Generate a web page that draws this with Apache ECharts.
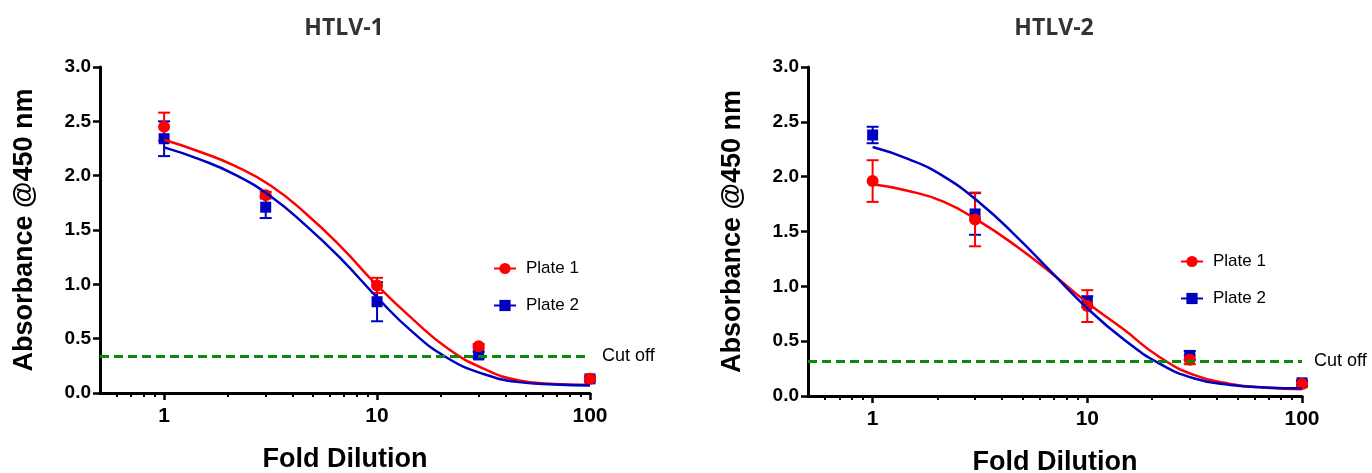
<!DOCTYPE html>
<html>
<head>
<meta charset="utf-8">
<style>
  html, body { margin: 0; padding: 0; background: #fff; }
  #box { width: 1372px; height: 473px; }
</style>
<script src="https://cdn.jsdelivr.net/npm/echarts@6/dist/echarts.min.js"></script>
</head>
<body>
<div id="box"></div>
<script>
// dilution points and values
var dilutions = [1, 3, 10, 30, 100];

var h1Plate1Mean = [2.45, 1.82, 0.99, 0.43, 0.13];
var h1Plate1Sd = [0.13, 0.03, 0.07, 0.02, 0.02];
var h1Plate2Mean = [2.34, 1.71, 0.84, 0.35, 0.13];
var h1Plate2Sd = [0.16, 0.10, 0.18, 0.03, 0.02];

var h2Plate1Mean = [1.96, 1.61, 0.82, 0.33, 0.11];
var h2Plate1Sd = [0.19, 0.245, 0.145, 0.04, 0.02];
var h2Plate2Mean = [2.38, 1.66, 0.86, 0.37, 0.12];
var h2Plate2Sd = [0.075, 0.19, 0.05, 0.04, 0.02];

// fitted curves, read at these dilutions
var fitX = [1, 1.47, 2.15, 3.16, 4.64, 6.81, 10, 14.7, 21.5, 31.6, 46.4, 68.1, 100];
var h1Fit1 = [2.33, 2.22, 2.09, 1.91, 1.65, 1.34, 0.99, 0.68, 0.41, 0.225, 0.115, 0.083, 0.075];
var h1Fit2 = [2.26, 2.15, 2.01, 1.81, 1.54, 1.23, 0.88, 0.56, 0.32, 0.175, 0.10, 0.078, 0.07];
var h2Fit1 = [1.93, 1.87, 1.77, 1.59, 1.37, 1.12, 0.85, 0.61, 0.36, 0.19, 0.11, 0.075, 0.062];
var h2Fit2 = [2.27, 2.16, 2.00, 1.76, 1.46, 1.13, 0.80, 0.52, 0.30, 0.16, 0.10, 0.078, 0.07];

var cutoffs = [0.34, 0.32];
var titles = ['HTLV-1', 'HTLV-2'];
var majorTicks = [1, 10, 100];
var minorTicks = [0.6, 0.7, 0.8, 0.9, 2, 3, 4, 5, 6, 7, 8, 9, 20, 30, 40, 50, 60, 70, 80, 90];

var RED = '#ff0000';
var BLUE = '#0000c0';
var GREEN = '#0a8a0a';
var FONT = 'Liberation Sans';

function pairs(xs, ys) {
    return xs.map(function (x, i) { return [x, ys[i]]; });
}
function errs(xs, ms, sds) {
    return xs.map(function (x, i) { return [x, ms[i] - sds[i], ms[i] + sds[i]]; });
}

function errorBars(name, data, color, idx) {
    return {
        name: name,
        type: 'custom',
        xAxisIndex: idx * 2,
        yAxisIndex: idx,
        silent: true,
        data: data,
        renderItem: function (params, api) {
            var lo = api.coord([api.value(0), api.value(1)]);
            var hi = api.coord([api.value(0), api.value(2)]);
            var w = 6;
            var st = { stroke: color, lineWidth: 2 };
            return {
                type: 'group',
                children: [
                    { type: 'line', shape: { x1: lo[0], y1: lo[1], x2: hi[0], y2: hi[1] }, style: st },
                    { type: 'line', shape: { x1: lo[0] - w, y1: lo[1], x2: lo[0] + w, y2: lo[1] }, style: st },
                    { type: 'line', shape: { x1: hi[0] - w, y1: hi[1], x2: hi[0] + w, y2: hi[1] }, style: st }
                ]
            };
        }
    };
}

function curve(name, ys, color, symbol, idx) {
    return {
        name: name,
        type: 'line',
        xAxisIndex: idx * 2,
        yAxisIndex: idx,
        data: pairs(fitX, ys),
        smooth: 0.5,
        showSymbol: false,
        symbol: symbol,
        symbolSize: 12,
        silent: true,
        lineStyle: { color: color, width: 2.5 },
        itemStyle: { color: color }
    };
}

function points(name, ys, color, symbol, size, idx) {
    return {
        name: name,
        type: 'scatter',
        xAxisIndex: idx * 2,
        yAxisIndex: idx,
        symbol: symbol,
        symbolSize: size,
        itemStyle: { color: color, opacity: 1 },
        data: pairs(dilutions, ys)
    };
}

function cutoffLine(idx) {
    return {
        name: 'Cut off',
        type: 'line',
        xAxisIndex: idx * 2,
        yAxisIndex: idx,
        data: [],
        markLine: {
            silent: true,
            symbol: 'none',
            data: [{ yAxis: cutoffs[idx] }],
            lineStyle: { color: GREEN, type: [9, 5], width: 3 },
            label: { position: 'end', formatter: 'Cut off', color: '#000', fontSize: 18, fontFamily: FONT, distance: 12 }
        }
    };
}

var panels = [
    { p1: h1Plate1Mean, s1: h1Plate1Sd, p2: h1Plate2Mean, s2: h1Plate2Sd, f1: h1Fit1, f2: h1Fit2 },
    { p1: h2Plate1Mean, s1: h2Plate1Sd, p2: h2Plate2Mean, s2: h2Plate2Sd, f1: h2Fit1, f2: h2Fit2 }
];

var grids = [
    { left: 100, width: 490, top: 67, height: 326, outerBoundsMode: 'none', containLabel: false },
    { left: 808, width: 494, top: 67, height: 329, outerBoundsMode: 'none', containLabel: false }
];

var xAxes = [];
var yAxes = [];
var series = [];

grids.forEach(function (g, i) {
    // main x axis: 1, 10, 100
    xAxes.push({
        type: 'log',
        gridIndex: i,
        position: 'bottom',
        min: 0.5,
        max: 100,
        logBase: 10,
        name: 'Fold Dilution',
        nameLocation: 'middle',
        nameGap: 53,
        nameTextStyle: { color: '#000', fontSize: 27, fontWeight: 'bold', fontFamily: FONT },
        axisLine: { lineStyle: { color: '#000', width: 3 } },
        axisTick: { customValues: majorTicks, length: 7, lineStyle: { color: '#000', width: 2.5 } },
        axisLabel: { customValues: majorTicks, margin: 13, color: '#000', fontSize: 21, fontWeight: 'bold', fontFamily: FONT },
        splitLine: { show: false }
    });
    // minor ticks only
    xAxes.push({
        type: 'log',
        gridIndex: i,
        position: 'bottom',
        min: 0.5,
        max: 100,
        logBase: 10,
        axisLine: { show: false },
        axisTick: { customValues: minorTicks, length: 4, lineStyle: { color: '#000', width: 2 } },
        axisLabel: { show: false },
        splitLine: { show: false }
    });
    yAxes.push({
        type: 'value',
        gridIndex: i,
        min: 0,
        max: 3,
        interval: 0.5,
        name: 'Absorbance @450 nm',
        nameLocation: 'middle',
        nameGap: 62,
        nameTextStyle: { color: '#000', fontSize: 27, fontWeight: 'bold', fontFamily: FONT },
        axisLine: { show: true, lineStyle: { color: '#000', width: 3 } },
        axisTick: { show: true, length: 7, lineStyle: { color: '#000', width: 2.5 } },
        axisLabel: {
            margin: 9, color: '#000', fontSize: 19, fontWeight: 'bold', fontFamily: FONT,
            formatter: function (v) { return v.toFixed(1); }
        },
        splitLine: { show: false }
    });

    var p = panels[i];
    series.push(curve('Plate 1', p.f1, RED, 'circle', i));
    series.push(curve('Plate 2', p.f2, BLUE, 'rect', i));
    series.push(errorBars('Plate 2', errs(dilutions, p.p2, p.s2), BLUE, i));
    series.push(points('Plate 2', p.p2, BLUE, 'rect', 11, i));
    series.push(errorBars('Plate 1', errs(dilutions, p.p1, p.s1), RED, i));
    series.push(points('Plate 1', p.p1, RED, 'circle', 12, i));
    series.push(cutoffLine(i));
});

var myChart = echarts.init(document.getElementById('box'));
var option = {
    animation: false,
    backgroundColor: '#fff',
    title: [
        { text: titles[0], left: 339, top: 12, textAlign: 'center',
          textStyle: { fontFamily: 'Open Sans', fontSize: 23, fontWeight: 'bold', color: '#333' } },
        { text: titles[1], left: 1049, top: 12, textAlign: 'center',
          textStyle: { fontFamily: 'Open Sans', fontSize: 23, fontWeight: 'bold', color: '#333' } }
    ],
    legend: [
        { data: ['Plate 1', 'Plate 2'], orient: 'vertical', left: 488, top: 255, itemWidth: 22, itemHeight: 14, itemGap: 20,
          textStyle: { color: '#000', fontSize: 17, fontFamily: FONT, padding: [0, 0, 0, 5] } },
        { data: ['Plate 1', 'Plate 2'], orient: 'vertical', left: 1175, top: 248, itemWidth: 22, itemHeight: 14, itemGap: 20,
          textStyle: { color: '#000', fontSize: 17, fontFamily: FONT, padding: [0, 0, 0, 5] } }
    ],
    grid: grids,
    xAxis: xAxes,
    yAxis: yAxes,
    series: series
};
myChart.setOption(option);
</script>
</body>
</html>
